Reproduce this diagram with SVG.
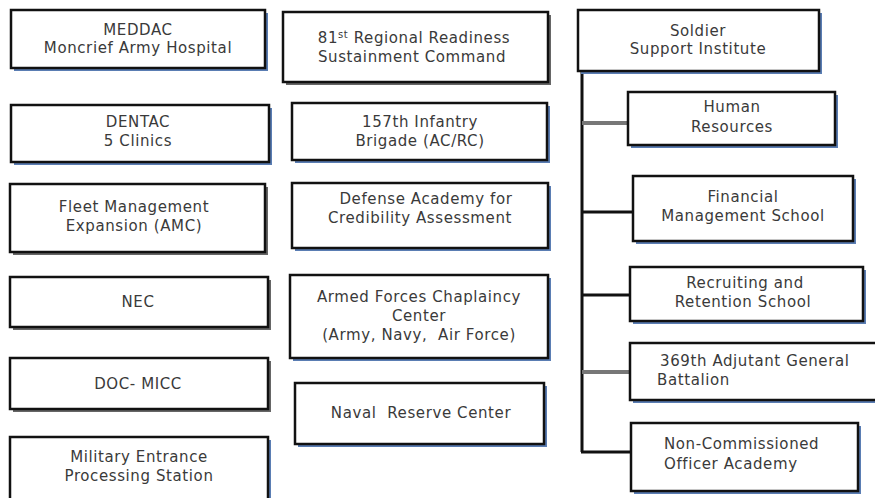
<svg xmlns="http://www.w3.org/2000/svg" width="875" height="498" viewBox="0 0 875 498">
<style>
.sh{fill:#5a7db3}
.sg{fill:#666}
.bx{fill:#fff;stroke:#111;stroke-width:2.5}
text{font-family:"DejaVu Sans","Liberation Sans",sans-serif;font-size:15px;letter-spacing:0.6px;fill:#3a3a3a;text-anchor:middle}
.l{text-anchor:start}
.ln{stroke:#111;stroke-width:3;fill:none}
.lg{stroke:#777;stroke-width:4;fill:none}
</style>
<rect width="875" height="498" fill="#fff"/>
<g id="connectors">
<line class="ln" x1="582" y1="70" x2="582" y2="452"/>
<line class="lg" x1="582" y1="123" x2="628" y2="123"/>
<line class="ln" x1="582" y1="212" x2="633" y2="212"/>
<line class="ln" x1="582" y1="295" x2="630" y2="295"/>
<line class="lg" x1="582" y1="372" x2="630" y2="372"/>
<line class="ln" x1="581" y1="452" x2="631" y2="452"/>
</g>
<g id="meddac"><rect class="sh" x="14" y="13" width="254" height="58"/><rect class="bx" x="11" y="10" width="254" height="58"/><text x="138" y="35">MEDDAC</text><text x="138" y="53">Moncrief Army Hospital</text></g>
<g id="dentac"><rect class="sh" x="14" y="108" width="258" height="57"/><rect class="bx" x="11" y="105" width="258" height="57"/><text x="138" y="127">DENTAC</text><text x="138" y="146">5 Clinics</text></g>
<g id="fleet"><rect class="sg" x="13" y="187" width="255" height="68"/><rect class="bx" x="10" y="184" width="255" height="68"/><text x="134" y="212">Fleet Management</text><text x="134" y="231">Expansion (AMC)</text></g>
<g id="nec"><rect class="sg" x="13" y="280" width="258" height="50"/><rect class="bx" x="10" y="277" width="258" height="50"/><text x="138" y="307">NEC</text></g>
<g id="docmicc"><rect class="sg" x="13" y="361" width="258" height="51"/><rect class="bx" x="10" y="358" width="258" height="51"/><text x="138" y="389">DOC- MICC</text></g>
<g id="mep"><rect class="sh" x="13" y="440" width="258" height="65"/><rect class="bx" x="10" y="437" width="258" height="65"/><text x="139" y="462">Military Entrance</text><text x="139" y="481">Processing Station</text></g>
<g id="rrsc"><rect class="sg" x="286" y="15" width="265" height="70"/><rect class="bx" x="283" y="12" width="265" height="70"/><text x="414" y="43">81<tspan font-size="10" dy="-5">st</tspan><tspan dy="5"> Regional Readiness</tspan></text><text x="412" y="62">Sustainment Command</text></g>
<g id="inf157"><rect class="sh" x="295" y="106" width="255" height="57"/><rect class="bx" x="292" y="103" width="255" height="57"/><text x="420" y="127">157th Infantry</text><text x="420" y="146">Brigade (AC/RC)</text></g>
<g id="daca"><rect class="sh" x="295" y="186" width="256" height="65"/><rect class="bx" x="292" y="183" width="256" height="65"/><text x="426" y="204">Defense Academy for</text><text x="420" y="223">Credibility Assessment</text></g>
<g id="afcc"><rect class="sh" x="293" y="278" width="258" height="83"/><rect class="bx" x="290" y="275" width="258" height="83"/><text x="419" y="302">Armed Forces Chaplaincy</text><text x="419" y="321">Center</text><text x="419" y="340" xml:space="preserve">(Army, Navy,  Air Force)</text></g>
<g id="naval"><rect class="sh" x="298" y="386" width="249" height="61"/><rect class="bx" x="295" y="383" width="249" height="61"/><text x="421" y="418" xml:space="preserve">Naval  Reserve Center</text></g>
<g id="ssi"><rect class="sh" x="581" y="13" width="241" height="61"/><rect class="bx" x="578" y="10" width="241" height="61"/><text x="698" y="36">Soldier</text><text x="698" y="54">Support Institute</text></g>
<g id="hr"><rect class="sh" x="631" y="95" width="207" height="53"/><rect class="bx" x="628" y="92" width="207" height="53"/><text x="732" y="112">Human</text><text x="732" y="132">Resources</text></g>
<g id="fms"><rect class="sh" x="636" y="179" width="220" height="65"/><rect class="bx" x="633" y="176" width="220" height="65"/><text x="743" y="202">Financial</text><text x="743" y="221">Management School</text></g>
<g id="rrs"><rect class="sh" x="633" y="270" width="233" height="54"/><rect class="bx" x="630" y="267" width="233" height="54"/><text x="745" y="288">Recruiting and</text><text x="743" y="307">Retention School</text></g>
<g id="agb"><rect class="sh" x="633" y="346" width="250" height="57"/><rect class="bx" x="630" y="343" width="250" height="57"/><text class="l" x="660" y="366">369th Adjutant General</text><text class="l" x="657" y="385">Battalion</text></g>
<g id="nco"><rect class="sh" x="634" y="426" width="227" height="68"/><rect class="bx" x="631" y="423" width="227" height="68"/><text class="l" x="664" y="449">Non-Commissioned</text><text class="l" x="664" y="469">Officer Academy</text></g>
</svg>
